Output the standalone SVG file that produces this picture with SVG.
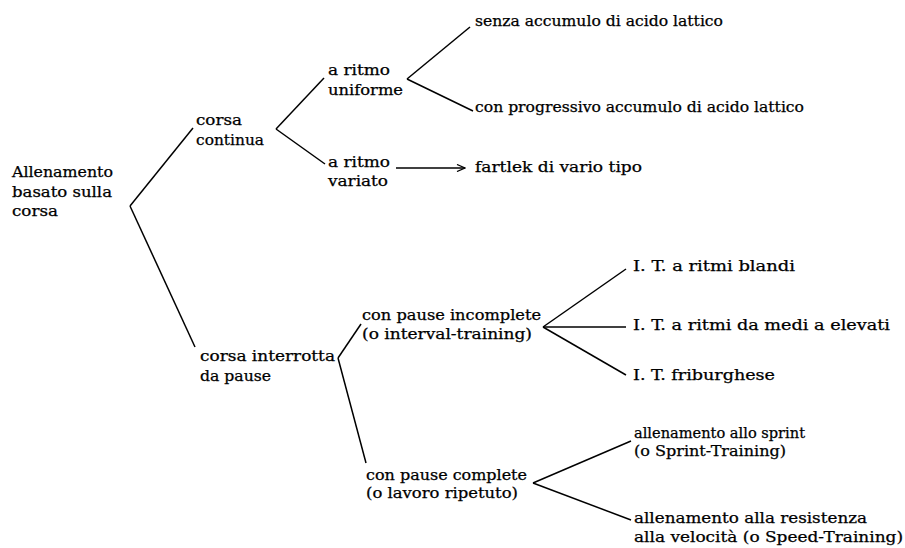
<svg xmlns="http://www.w3.org/2000/svg" width="905" height="548" viewBox="0 0 905 548">
<defs>
<style>
text{font-family:"DejaVu Serif","Liberation Serif",serif;font-size:14px;fill:#000;stroke:#000;stroke-width:0.25}
.c line{stroke:#000;stroke-width:1.5;fill:none}
</style>
<marker id="ah" markerWidth="10" markerHeight="8" refX="9" refY="4" orient="auto" markerUnits="userSpaceOnUse">
<path d="M1,0.5 L9,4 L1,7.5" fill="none" stroke="#000" stroke-width="1.3"/>
</marker>
</defs>
<rect width="905" height="548" fill="#fff"/>
<g id="connectors" class="c">
<line x1="130" y1="206" x2="193" y2="128"/>
<line x1="130" y1="206" x2="195" y2="347"/>
<line x1="276" y1="129" x2="324" y2="78"/>
<line x1="276" y1="129" x2="325" y2="164"/>
<line x1="407" y1="79" x2="470" y2="27"/>
<line x1="407" y1="79" x2="473" y2="111"/>
<line x1="396" y1="168" x2="465" y2="168" marker-end="url(#ah)"/>
<line x1="338" y1="358" x2="361" y2="324"/>
<line x1="338" y1="358" x2="366" y2="463"/>
<line x1="543" y1="327" x2="626" y2="269"/>
<line x1="543" y1="327" x2="626" y2="327"/>
<line x1="543" y1="327" x2="626" y2="375"/>
<line x1="533" y1="483" x2="631" y2="441"/>
<line x1="533" y1="483" x2="631" y2="520"/>
</g>
<g id="root">
<text x="12" y="177" textLength="101" lengthAdjust="spacingAndGlyphs">Allenamento</text>
<text x="12" y="197" textLength="100" lengthAdjust="spacingAndGlyphs">basato sulla</text>
<text x="12" y="216" textLength="46" lengthAdjust="spacingAndGlyphs">corsa</text>
</g>
<g id="corsa-continua">
<text x="196" y="125" textLength="46" lengthAdjust="spacingAndGlyphs">corsa</text>
<text x="196" y="145" textLength="68" lengthAdjust="spacingAndGlyphs">continua</text>
</g>
<g id="ritmo-uniforme">
<text x="328" y="75" textLength="62" lengthAdjust="spacingAndGlyphs">a ritmo</text>
<text x="328" y="95" textLength="75" lengthAdjust="spacingAndGlyphs">uniforme</text>
</g>
<g id="ritmo-variato">
<text x="328" y="167" textLength="62" lengthAdjust="spacingAndGlyphs">a ritmo</text>
<text x="328" y="186" textLength="60" lengthAdjust="spacingAndGlyphs">variato</text>
</g>
<g id="fartlek">
<text x="475" y="172" textLength="167" lengthAdjust="spacingAndGlyphs">fartlek di vario tipo</text>
</g>
<g id="senza-accumulo">
<text x="475" y="26" textLength="248" lengthAdjust="spacingAndGlyphs">senza accumulo di acido lattico</text>
</g>
<g id="progressivo-accumulo">
<text x="475" y="112" textLength="329" lengthAdjust="spacingAndGlyphs">con progressivo accumulo di acido lattico</text>
</g>
<g id="corsa-interrotta">
<text x="200" y="361" textLength="135" lengthAdjust="spacingAndGlyphs">corsa interrotta</text>
<text x="200" y="381" textLength="71" lengthAdjust="spacingAndGlyphs">da pause</text>
</g>
<g id="pause-incomplete">
<text x="362" y="320" textLength="179" lengthAdjust="spacingAndGlyphs">con pause incomplete</text>
<text x="362" y="339" textLength="170" lengthAdjust="spacingAndGlyphs">(o interval-training)</text>
</g>
<g id="it-blandi">
<text x="633" y="271" textLength="162" lengthAdjust="spacingAndGlyphs">I. T. a ritmi blandi</text>
</g>
<g id="it-medi">
<text x="633" y="330" textLength="257" lengthAdjust="spacingAndGlyphs">I. T. a ritmi da medi a elevati</text>
</g>
<g id="it-friburghese">
<text x="633" y="380" textLength="142" lengthAdjust="spacingAndGlyphs">I. T. friburghese</text>
</g>
<g id="pause-complete">
<text x="366" y="480" textLength="161" lengthAdjust="spacingAndGlyphs">con pause complete</text>
<text x="366" y="498" textLength="152" lengthAdjust="spacingAndGlyphs">(o lavoro ripetuto)</text>
</g>
<g id="sprint">
<text x="634" y="438" textLength="171" lengthAdjust="spacingAndGlyphs">allenamento allo sprint</text>
<text x="634" y="456" textLength="152" lengthAdjust="spacingAndGlyphs">(o Sprint-Training)</text>
</g>
<g id="speed">
<text x="634" y="523" textLength="233" lengthAdjust="spacingAndGlyphs">allenamento alla resistenza</text>
<text x="634" y="542" textLength="269" lengthAdjust="spacingAndGlyphs">alla velocità (o Speed-Training)</text>
</g>
</svg>
